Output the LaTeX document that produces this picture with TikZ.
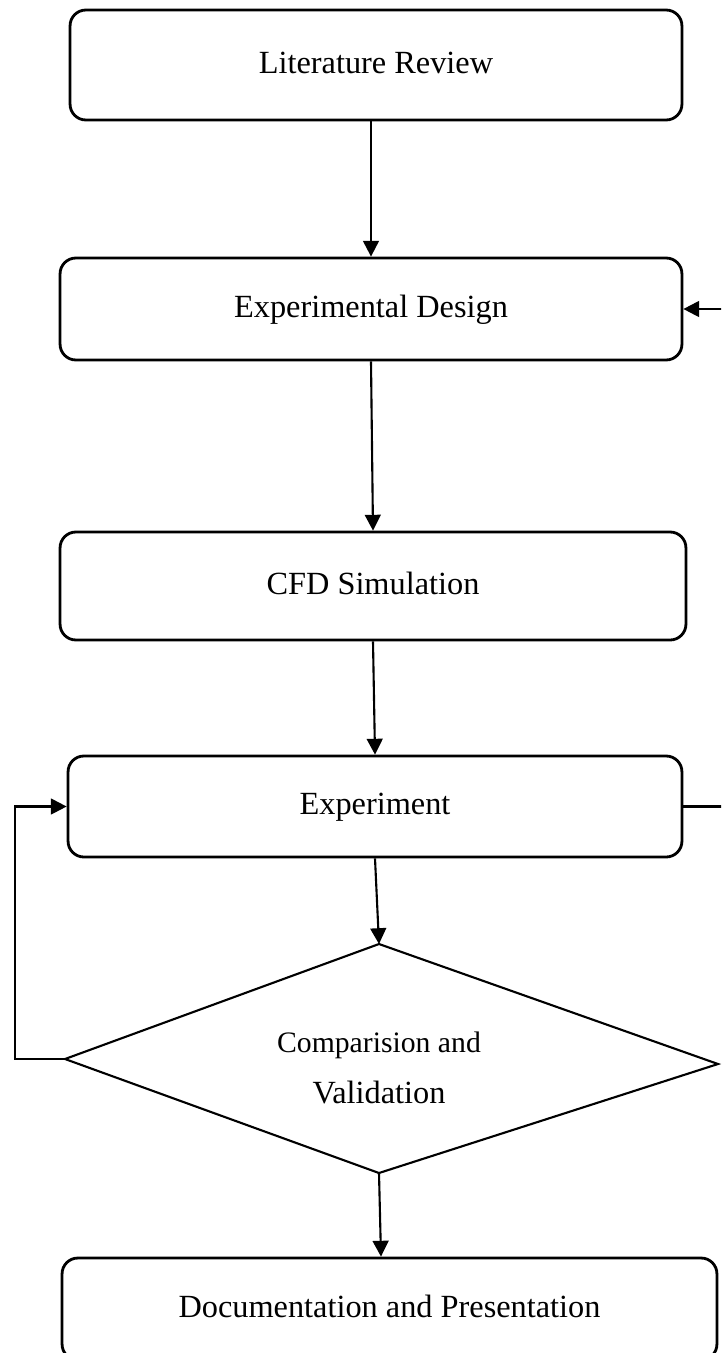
\documentclass[tikz,border=0pt]{standalone}
\usepackage{fontspec}
\setmainfont{Liberation Serif}
\usetikzlibrary{positioning,arrows.meta}

\begin{document}
\begin{tikzpicture}[
      x=0.02cm, y=-0.02cm,
      box/.style={rectangle, rounded corners=9pt, draw=black, line width=1.6pt,
                  minimum height=2.04cm, align=center, text depth=3pt,
                  font=\fontsize{18.4}{22}\selectfont},
      arrow/.style={-{Triangle[length=9pt,width=9pt]}, line width=1.2pt}
    ]
    \useasboundingbox (0,0) rectangle (721,1353);
    \clip (0,0) rectangle (721,1353);

    \node[box, minimum width=12.24cm, minimum height=2.2cm] (lit) at (376,65) {Literature Review};
    \node[box, minimum width=12.44cm] (des) at (371,309) {Experimental Design};
    \node[box, minimum width=12.52cm, minimum height=2.16cm] (cfd) at (373,586) {CFD Simulation};
    \node[box, minimum width=12.28cm, minimum height=2.02cm] (exp) at (375,806.5) {Experiment};

    % decision
    \coordinate (dtop) at (379,944);
    \coordinate (dright) at (718,1064);
    \coordinate (dbot) at (379,1173);
    \coordinate (dleft) at (65,1059);
    \draw[line width=1.2pt] (dtop) -- (dright) -- (dbot) -- (dleft) -- cycle;
    \node[align=center, font=\fontsize{18.4}{29}\selectfont] (cmp) at (379,1068)
      {{\fontsize{16.9}{29}\selectfont Comparision and}\\Validation};

    \node[box, minimum width=13.1cm] (doc) at (389.5,1309) {Documentation and Presentation};

    \draw[arrow] (lit.south -| des.north) -- (des.north);
    \draw[arrow] (des.south) -- (cfd.north);
    \draw[arrow] (cfd.south) -- (exp.north);
    \draw[arrow] (exp.south) -- (dtop);
    \draw[arrow] (dbot) -- ([xshift=-0.17cm]doc.north);
    \draw[arrow] (dleft) -- ++(-50,0) |- (exp.west);
    \draw[arrow] (exp.east) -- ++(60,0) |- (des.east);
  \end{tikzpicture}
\end{document}
